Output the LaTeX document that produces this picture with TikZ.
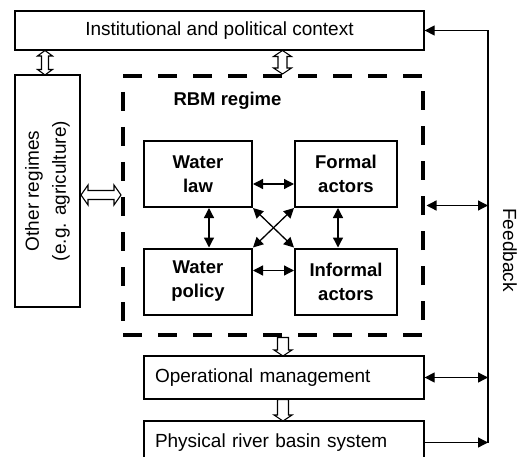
\documentclass[tikz,border=0pt]{standalone}
\usepackage{fontspec}
\setmainfont{Liberation Sans}
\usetikzlibrary{arrows.meta,calc}
% vertical double hollow arrow: x, y1, y2, shaft half, head half, head length
\newcommand\myHollowV[6]{%
  \draw[hollow] ({#1},{#2}) -- ({#1+#5},{#2+#6}) -- ({#1+#4},{#2+#6}) -- ({#1+#4},{#3-#6}) -- ({#1+#5},{#3-#6}) -- ({#1},{#3})
   -- ({#1-#5},{#3-#6}) -- ({#1-#4},{#3-#6}) -- ({#1-#4},{#2+#6}) -- ({#1-#5},{#2+#6}) -- cycle;}
% horizontal double hollow arrow: y, x1, x2, shaft half, head half, head length
\newcommand\myHollowH[6]{%
  \draw[hollow] ({#2},{#1}) -- ({#2+#6},{#1+#5}) -- ({#2+#6},{#1+#4}) -- ({#3-#6},{#1+#4}) -- ({#3-#6},{#1+#5}) -- ({#3},{#1})
   -- ({#3-#6},{#1-#5}) -- ({#3-#6},{#1-#4}) -- ({#2+#6},{#1-#4}) -- ({#2+#6},{#1-#5}) -- cycle;}
% vertical single hollow arrow pointing down: x, y1, y2, shaft half, head half, head length
\newcommand\myHollowDown[6]{%
  \draw[hollow] ({#1-#4},{#2}) -- ({#1+#4},{#2}) -- ({#1+#4},{#3-#6}) -- ({#1+#5},{#3-#6}) -- ({#1},{#3})
   -- ({#1-#5},{#3-#6}) -- ({#1-#4},{#3-#6}) -- cycle;}
\begin{document}
\begin{tikzpicture}[x=1pt,y=-1pt,
  font=\fontsize{19}{25}\selectfont,
  outerbox/.style={draw, line width=1.3pt, inner sep=0pt},
  innerbox/.style={draw, line width=2pt, font=\fontsize{18.5}{24}\selectfont\bfseries, align=center, minimum height=66pt, inner sep=0pt},
  arr/.style={line width=1.3pt, -{Triangle[length=10pt,width=10pt]}},
  darr/.style={line width=1.3pt, {Triangle[length=10pt,width=10pt]}-{Triangle[length=10pt,width=10pt]}},
  hollow/.style={draw, line width=1.1pt, fill=white, line join=miter},
]
\useasboundingbox (0,0) rectangle (519,457);
\clip (0,0) rectangle (519,457);

% boxes
\node[outerbox, minimum width=409pt, minimum height=39pt] (inst) at (219.5,30.5) {Institutional and political context};
\node[outerbox, minimum width=65pt, minimum height=232pt] (other) at (47.5,191) {};
\node[rotate=90, align=center, font=\fontsize{19}{27}\selectfont] (othertxt) at (other.center) {Other regimes\\(e.g. agriculture)};
\node[draw, line width=4pt, dash pattern=on 19pt off 16pt, minimum width=300pt, minimum height=259pt, inner sep=0pt] (rbm) at (273,205.5) {};
\node[anchor=west, font=\fontsize{18.5}{25}\selectfont\bfseries] (rbmlbl) at (170,101) {RBM regime};

\node[innerbox, minimum width=108pt] (wlaw) at (198,174) {Water\\law};
\node[innerbox, minimum width=108pt] (wpol) at (198,281.5) {Water\\policy};
\node[innerbox, minimum width=102pt] (fact) at (346,174) {Formal\\actors};
\node[innerbox, minimum width=102pt] (iact) at (346,281.5) {Informal\\actors};

\node[outerbox, minimum width=280pt, minimum height=43pt, text width=258pt, inner xsep=11pt, align=left] (oper) at (284,377.5) {Operational management};
\node[outerbox, minimum width=280pt, minimum height=43pt, text width=258pt, inner xsep=11pt, align=left] (phys) at (284,442.5) {Physical river basin system};

\node[rotate=-90] (fb) at (510,250) {Feedback};

% inner arrows
\draw[darr] ($(wlaw.east)+(0,10)$) -- ($(fact.west)+(0,10)$);
\draw[darr] ($(wpol.east)+(0,-11)$) -- ($(iact.west)+(0,-11)$);
\draw[darr] ($(wlaw.south)+(11,0)$) -- ($(wpol.north)+(11,0)$);
\draw[darr] ($(fact.south)+(-8,0)$) -- ($(iact.north)+(-8,0)$);
\draw[darr] (wlaw.south east) -- (iact.north west);
\draw[darr] (fact.south west) -- (wpol.north east);

% feedback loop
\coordinate (fbx) at (488,0);
\draw[line width=1.3pt] (inst.east -| fbx) -- (phys.east -| fbx);
\draw[arr] (inst.east -| fbx) -- (inst.east);
\draw[darr, shorten <=1.5pt] (rbm.east) -- (rbm.east -| fbx);
\draw[darr] (oper.east) -- (oper.east -| fbx);
\draw[arr] (phys.east) -- (phys.east -| fbx);

% hollow arrows
\myHollowV{45}{50.5}{75}{3.5}{7.5}{5.5}
\myHollowV{282.5}{50.5}{74}{4.5}{9}{6}
\myHollowH{195}{81}{121}{4.5}{10}{7}
\myHollowDown{283}{337.5}{356}{5.5}{9}{6}
\myHollowDown{283}{399.5}{421}{5.5}{9}{6}
\end{tikzpicture}
\end{document}
